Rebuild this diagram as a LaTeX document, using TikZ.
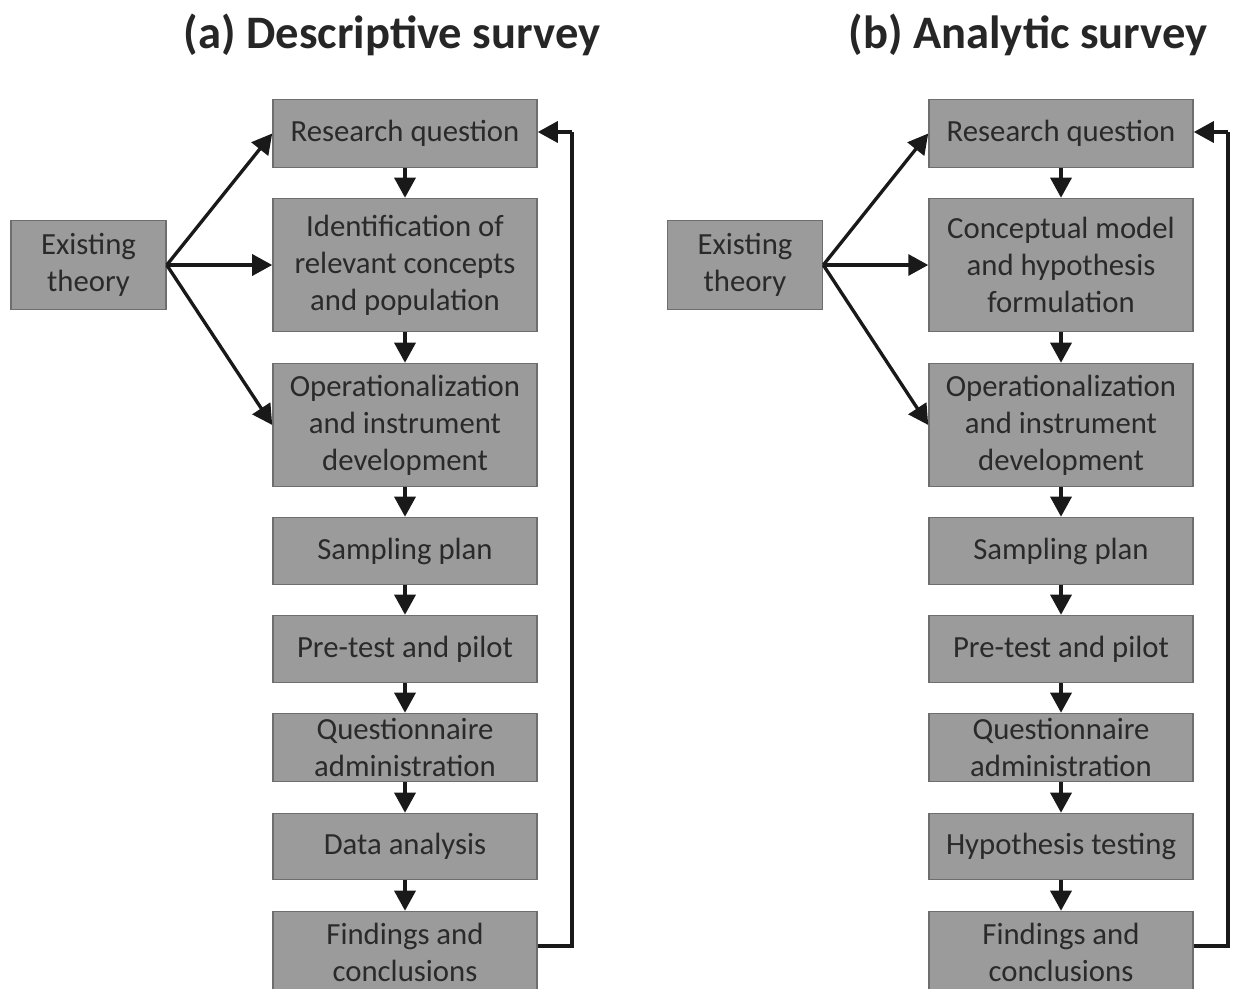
\documentclass[tikz,border=0pt]{standalone}
\usepackage{fontspec}
\setmainfont{Carlito}
\usetikzlibrary{arrows.meta}
\definecolor{boxfill}{HTML}{9B9B9B}
\definecolor{boxline}{HTML}{6E6E6E}
\definecolor{txt}{HTML}{2A2A2A}
\begin{document}
\begin{tikzpicture}[x=0.02cm,y=-0.02cm,
  box/.style={draw=boxline, fill=boxfill, line width=0.9pt, text=txt,
    align=center, inner sep=0pt, font=\fontsize{17.5}{21}\selectfont,
    minimum width=5.28cm},
  theory/.style={box, minimum width=3.1cm, minimum height=1.78cm},
  conn/.style={line width=1.9pt, draw=black!90,
    -{Triangle[length=0.4cm,width=0.42cm]}},
  fb/.style={line width=1.9pt, draw=black!90},
  ttl/.style={font=\fontsize{26.5}{31}\selectfont\bfseries, text=black!85}]
\useasboundingbox (0,0) rectangle (1233,988);

% ---------- (a) ----------
\node[ttl] (ta) at (392,35) {(a) Descriptive survey};
\node[theory] (eta) at (88.5,265) {Existing\\theory};
\node[box, minimum height=1.36cm] (rqa) at (405,133.5) {Research question};
\node[box, minimum height=2.66cm] (ida) at (405,265) {Identification of\\relevant concepts\\and population};
\node[box, minimum height=2.46cm] (opa) at (405,425) {Operationalization\\and instrument\\development};
\node[box, minimum height=1.34cm] (spa) at (405,551) {Sampling plan};
\node[box, minimum height=1.34cm] (pta) at (405,649) {Pre-test and pilot};
\node[box, minimum height=1.36cm] (qaa) at (405,747.5) {Questionnaire\\administration};
\node[box, minimum height=1.32cm] (daa) at (405,846.5) {Data analysis};
\node[box, minimum height=1.64cm] (fca) at (405,952.5) {Findings and\\conclusions};

\coordinate (ea) at (eta.east);
\draw[conn] (ea) -- (rqa.west);
\draw[conn] (ea) -- (ida.west);
\draw[conn] (ea) -- (opa.west);
\draw[conn] (rqa) -- (ida);
\draw[conn] (ida) -- (opa);
\draw[conn] (opa) -- (spa);
\draw[conn] (spa) -- (pta);
\draw[conn] (pta) -- (qaa);
\draw[conn] (qaa) -- (daa);
\draw[conn] (daa) -- (fca);
\coordinate (fa1) at (572,946);
\coordinate (fa2) at (572,132);
\draw[fb] (fca.east |- fa1) -- (fa1) -- (fa2);
\draw[conn] (fa2) -- (fa2 -| rqa.east);

% ---------- (b) ----------
\node[ttl] (tb) at (1028,35) {(b) Analytic survey};
\node[theory] (etb) at (745,265) {Existing\\theory};
\node[box, minimum height=1.36cm] (rqb) at (1061,133.5) {Research question};
\node[box, minimum height=2.66cm] (idb) at (1061,265) {Conceptual model\\and hypothesis\\formulation};
\node[box, minimum height=2.46cm] (opb) at (1061,425) {Operationalization\\and instrument\\development};
\node[box, minimum height=1.34cm] (spb) at (1061,551) {Sampling plan};
\node[box, minimum height=1.34cm] (ptb) at (1061,649) {Pre-test and pilot};
\node[box, minimum height=1.36cm] (qab) at (1061,747.5) {Questionnaire\\administration};
\node[box, minimum height=1.32cm] (dab) at (1061,846.5) {Hypothesis testing};
\node[box, minimum height=1.64cm] (fcb) at (1061,952.5) {Findings and\\conclusions};

\coordinate (eb) at (etb.east);
\draw[conn] (eb) -- (rqb.west);
\draw[conn] (eb) -- (idb.west);
\draw[conn] (eb) -- (opb.west);
\draw[conn] (rqb) -- (idb);
\draw[conn] (idb) -- (opb);
\draw[conn] (opb) -- (spb);
\draw[conn] (spb) -- (ptb);
\draw[conn] (ptb) -- (qab);
\draw[conn] (qab) -- (dab);
\draw[conn] (dab) -- (fcb);
\coordinate (fb1) at (1228,946);
\coordinate (fb2) at (1228,132);
\draw[fb] (fcb.east |- fb1) -- (fb1) -- (fb2);
\draw[conn] (fb2) -- (fb2 -| rqb.east);
\end{tikzpicture}
\end{document}
